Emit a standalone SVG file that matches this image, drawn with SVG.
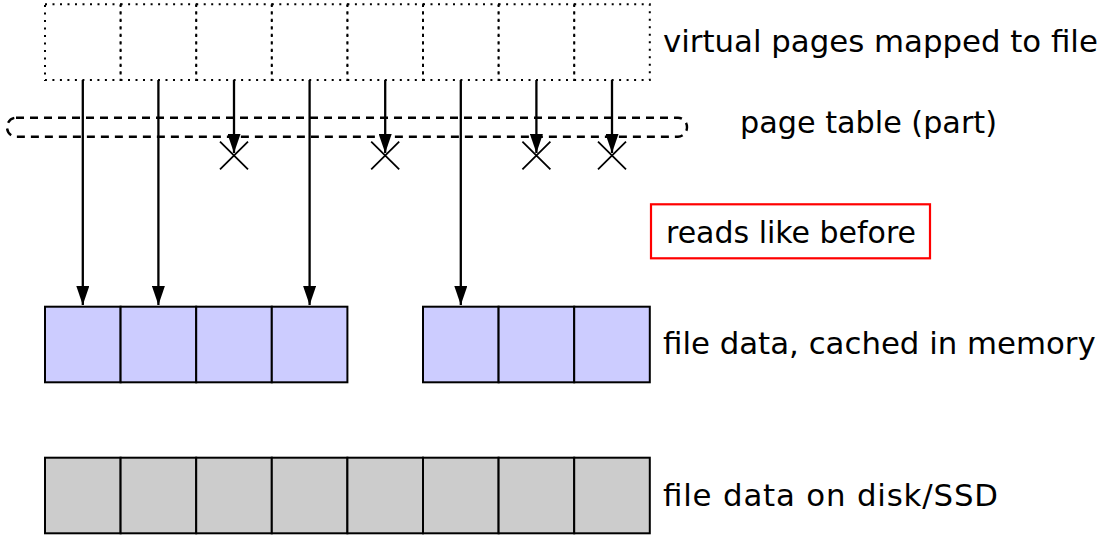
<svg xmlns="http://www.w3.org/2000/svg" width="1102" height="536" viewBox="0 0 1102 536">
<defs>
<style>
.vp{fill:none;stroke:#000;stroke-width:2;stroke-dasharray:2 5.5}
.mem{fill:#ccccff;stroke:#000;stroke-width:2}
.disk{fill:#cccccc;stroke:#000;stroke-width:2}
.arr{stroke:#000;stroke-width:2.3;fill:none}
.x{stroke:#000;stroke-width:1.8;fill:none}
.pt{fill:none;stroke:#000;stroke-width:2.4;stroke-dasharray:8 6}
.lbl{font-family:"DejaVu Sans",sans-serif;font-size:30.8px;fill:#000}
</style>
<marker id="ah" viewBox="0 0 19 13" refX="19" refY="6.5" markerWidth="19" markerHeight="13" markerUnits="userSpaceOnUse" orient="auto">
<path d="M0,0 L19,6.5 L0,13 Z" fill="#000"/>
</marker>
</defs>
<g id="virtual-pages">
<rect class="vp" x="45" y="4.3" width="75.6" height="75.7"/>
<rect class="vp" x="120.6" y="4.3" width="75.6" height="75.7"/>
<rect class="vp" x="196.2" y="4.3" width="75.6" height="75.7"/>
<rect class="vp" x="271.8" y="4.3" width="75.6" height="75.7"/>
<rect class="vp" x="347.4" y="4.3" width="75.6" height="75.7"/>
<rect class="vp" x="423" y="4.3" width="75.6" height="75.7"/>
<rect class="vp" x="498.6" y="4.3" width="75.6" height="75.7"/>
<rect class="vp" x="574.2" y="4.3" width="75.6" height="75.7"/>
<text class="lbl" x="663" y="52">virtual pages mapped to file</text>
</g>
<g id="page-table">
<rect class="pt" x="7" y="117.7" width="680" height="19" rx="9" ry="9.5"/>
<text class="lbl" x="740" y="133" textLength="257" lengthAdjust="spacingAndGlyphs">page table (part)</text>
</g>
<g id="note">
<rect x="651" y="204.3" width="279" height="54" fill="none" stroke="#ff0000" stroke-width="2.2"/>
<text class="lbl" x="666" y="243" textLength="250" lengthAdjust="spacingAndGlyphs">reads like before</text>
</g>
<g id="memory">
<rect class="mem" x="45" y="306.7" width="75.6" height="75.6"/>
<rect class="mem" x="120.6" y="306.7" width="75.6" height="75.6"/>
<rect class="mem" x="196.2" y="306.7" width="75.6" height="75.6"/>
<rect class="mem" x="271.8" y="306.7" width="75.6" height="75.6"/>
<rect class="mem" x="423" y="306.7" width="75.6" height="75.6"/>
<rect class="mem" x="498.6" y="306.7" width="75.6" height="75.6"/>
<rect class="mem" x="574.2" y="306.7" width="75.6" height="75.6"/>
<text class="lbl" x="663" y="354">file data, cached in memory</text>
</g>
<g id="disk">
<rect class="disk" x="45" y="457.7" width="75.6" height="75.6"/>
<rect class="disk" x="120.6" y="457.7" width="75.6" height="75.6"/>
<rect class="disk" x="196.2" y="457.7" width="75.6" height="75.6"/>
<rect class="disk" x="271.8" y="457.7" width="75.6" height="75.6"/>
<rect class="disk" x="347.4" y="457.7" width="75.6" height="75.6"/>
<rect class="disk" x="423" y="457.7" width="75.6" height="75.6"/>
<rect class="disk" x="498.6" y="457.7" width="75.6" height="75.6"/>
<rect class="disk" x="574.2" y="457.7" width="75.6" height="75.6"/>
<text class="lbl" x="663" y="506" textLength="335" lengthAdjust="spacing">file data on disk/SSD</text>
</g>
<g id="connectors">
<line class="arr" x1="82.8" y1="80" x2="82.8" y2="305" marker-end="url(#ah)"/>
<line class="arr" x1="158.4" y1="80" x2="158.4" y2="305" marker-end="url(#ah)"/>
<line class="arr" x1="309.6" y1="80" x2="309.6" y2="305" marker-end="url(#ah)"/>
<line class="arr" x1="460.8" y1="80" x2="460.8" y2="305" marker-end="url(#ah)"/>
<line class="arr" x1="234" y1="80" x2="234" y2="153" marker-end="url(#ah)"/>
<line class="arr" x1="385.2" y1="80" x2="385.2" y2="153" marker-end="url(#ah)"/>
<line class="arr" x1="536.4" y1="80" x2="536.4" y2="153" marker-end="url(#ah)"/>
<line class="arr" x1="612" y1="80" x2="612" y2="153" marker-end="url(#ah)"/>
<path class="x" d="M220,141.7 L248,169.3 M248,141.7 L220,169.3"/>
<path class="x" d="M371.2,141.7 L399.2,169.3 M399.2,141.7 L371.2,169.3"/>
<path class="x" d="M522.4,141.7 L550.4,169.3 M550.4,141.7 L522.4,169.3"/>
<path class="x" d="M598,141.7 L626,169.3 M626,141.7 L598,169.3"/>
</g>
</svg>
